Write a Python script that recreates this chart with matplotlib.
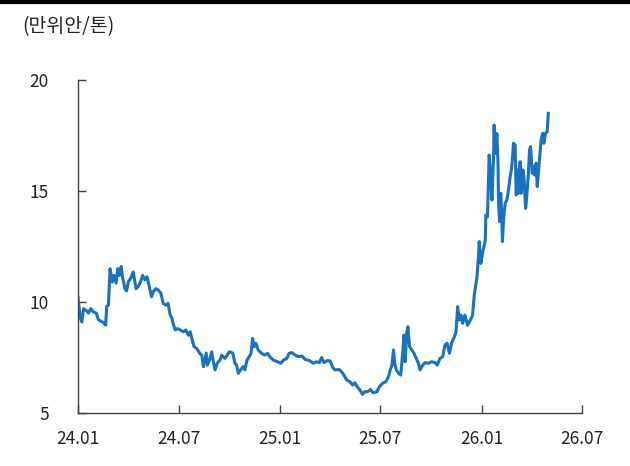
import matplotlib
matplotlib.use("Agg")
import matplotlib.pyplot as plt
from matplotlib.lines import Line2D
import pandas as pd

plt.rcParams['font.family'] = ['Noto Sans CJK KR', 'DejaVu Sans']

# days since 2024-01-01 and price (만위안/톤)
days = [0, 4, 7, 10, 16, 19, 23, 28, 33, 37, 46, 50, 52, 55, 58, 62, 65, 69, 72, 75,
        78, 81, 85, 88, 91, 96, 100, 105, 109, 113, 117, 121, 125, 129, 133, 136, 141,
        145, 150, 154, 159, 163, 167, 170, 172, 176, 180, 185, 191, 195, 200, 203, 206,
        210, 215, 220, 224, 227, 232, 234, 238, 242, 245, 248, 252, 257, 260, 266, 274,
        280, 284, 287, 290, 294, 299, 302, 306, 310, 313, 316, 319, 322, 326, 332, 338,
        343, 347, 353, 361, 367, 372, 378, 382, 387, 393, 399, 405, 411, 419, 426, 432,
        437, 441, 445, 451, 456, 461, 465, 471, 474, 480, 486, 492, 497, 501, 506, 510,
        515, 519, 524, 529, 534, 541, 545, 551, 557, 562, 565, 568, 571, 573, 576, 580,
        584, 588, 590, 592, 595, 597, 600, 604, 608, 612, 616, 619, 624, 628, 634, 640,
        646, 650, 655, 660, 664, 668, 672, 676, 681, 684, 687, 690, 693, 696, 700, 705,
        710, 714, 717, 722, 725, 726, 729, 732, 737, 738, 741, 744, 747, 749, 752, 753,
        755, 758, 760, 761, 763, 765, 767, 768, 770, 773, 776, 779, 782, 785, 788, 791,
        793, 795, 797, 800, 802, 805, 807, 810, 812, 815, 817, 819, 822, 824, 826, 829,
        831, 834, 836, 838, 841, 843, 846, 849, 851]
price = [10.2, 9.3, 9.1, 9.7, 9.6, 9.5, 9.7, 9.55, 9.5, 9.2, 9.07, 8.96, 9.8, 9.86, 11.5,
         10.9, 11.2, 10.85, 11.5, 11.2, 11.6, 11.07, 10.6, 10.5, 10.9, 11.1, 11.35, 10.6,
         10.7, 10.9, 11.2, 11.0, 11.14, 10.7, 10.24, 10.46, 10.6, 10.54, 10.4, 9.94, 9.86,
         9.94, 9.4, 9.27, 9.04, 8.74, 8.8, 8.74, 8.66, 8.74, 8.5, 8.66, 8.36, 7.99, 7.9,
         7.7, 7.6, 7.09, 7.7, 7.16, 7.39, 7.76, 7.31, 6.94, 7.24, 7.39, 7.6, 7.46, 7.76,
         7.7, 7.24, 7.16, 6.79, 6.94, 7.09, 6.94, 7.39, 7.54, 7.69, 8.36, 7.99, 8.14, 7.84,
         7.69, 7.61, 7.69, 7.54, 7.39, 7.31, 7.24, 7.39, 7.46, 7.69, 7.72, 7.61, 7.54,
         7.57, 7.42, 7.36, 7.24, 7.31, 7.27, 7.5, 7.27, 7.36, 7.35, 7.05, 6.94, 6.96,
         6.94, 6.76, 6.49, 6.41, 6.26, 6.36, 6.16, 6.04, 5.84, 5.96, 5.96, 6.06, 5.91,
         5.96, 6.16, 6.34, 6.41, 6.64, 6.94, 7.16, 7.84, 7.24, 6.94, 6.79, 6.71, 7.84,
         8.51, 7.31, 8.66, 8.89, 7.99, 7.84, 7.69, 7.46, 7.24, 6.94, 7.16, 7.27, 7.24,
         7.31, 7.27, 7.16, 7.46, 7.54, 8.06, 8.14, 7.69, 8.14, 8.44, 8.66, 9.79, 9.19,
         9.41, 9.04, 9.41, 8.96, 9.19, 9.41, 10.3, 11.14, 12.19, 12.72, 11.74, 12.19,
         12.79, 13.92, 13.84, 16.62, 15.5, 14.59, 16.55, 17.97, 16.7, 17.59, 16.25, 14.45,
         13.62, 14.9, 13.85, 12.72, 13.7, 14.45, 14.59, 15.05, 15.64, 16.1, 17.15, 17.07,
         14.82, 15.95, 14.9, 16.32, 14.9, 15.95, 15.65, 14.22, 14.74, 15.8, 16.85, 17.0,
         15.8, 16.1, 15.72, 16.25, 15.2, 16.1, 16.7, 17.3, 17.6, 17.15, 17.6, 17.67, 18.5]

x_ticks = ["2024-01-01", "2024-07-01", "2025-01-01", "2025-07-01", "2026-01-01", "2026-07-01"]
x_labels = ["24.01", "24.07", "25.01", "25.07", "26.01", "26.07"]
y_ticks = [5, 10, 15, 20]

dates = pd.Timestamp("2024-01-01") + pd.to_timedelta(days, unit="D")

fig = plt.figure(figsize=(6.3, 4.66), dpi=100)
ax = fig.add_axes([0.1238, 0.1137, 0.80, 0.7146])

ax.plot(dates, price, color="#1772c4", linewidth=2.2, solid_joinstyle="round")

ax.set_xlim(pd.Timestamp(x_ticks[0]), pd.Timestamp(x_ticks[-1]))
ax.set_ylim(5, 20)
ax.set_xticks(pd.to_datetime(x_ticks))
ax.set_xticklabels(x_labels)
ax.set_yticks(y_ticks)

for s in ("top", "right"):
    ax.spines[s].set_visible(False)
for s in ("left", "bottom"):
    ax.spines[s].set_color("#404040")
    ax.spines[s].set_linewidth(1.0)

ax.tick_params(axis="x", direction="in", length=6, width=1, color="#404040",
               labelsize=12.5, pad=12, labelcolor="#222222")
ax.tick_params(axis="y", direction="in", length=6, width=1, color="#404040",
               labelsize=12.5, pad=21, labelcolor="#222222")

# unit label and top rule
fig.text(22 / 630, 1 - 27 / 466, "(만위안/톤)", fontsize=14, color="#222222",
         ha="left", va="center")
fig.add_artist(Line2D([0, 1], [1 - 2 / 466, 1 - 2 / 466], color="black", linewidth=3,
                      transform=fig.transFigure))

fig.savefig("out.png", dpi=100)
